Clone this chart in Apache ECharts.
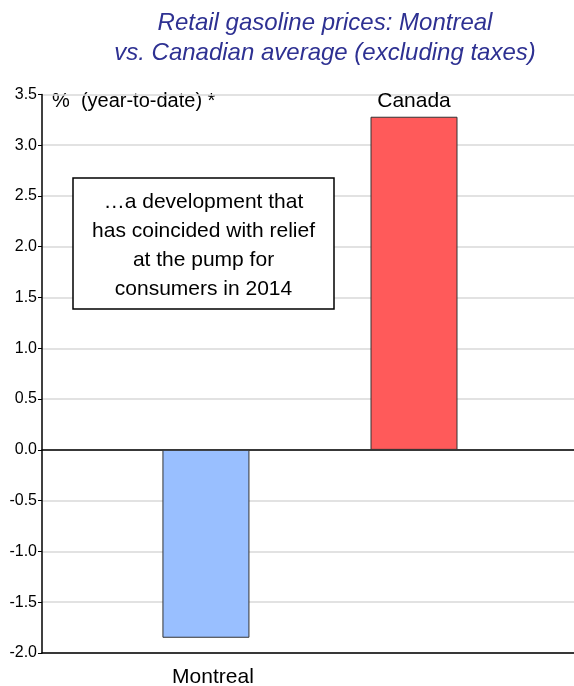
<!DOCTYPE html>
<html><head><meta charset="utf-8">
<script src="https://cdn.jsdelivr.net/npm/echarts@6/dist/echarts.min.js"></script>
<style>html,body{margin:0;padding:0;background:#fff}#c{width:574px;height:686px}</style>
</head><body><div id="c"></div>
<script>
const categories = ['Montreal', 'Canada'];
const values = [-1.85, 3.28];
const barColors = ['#99bfff', '#ff5a5a'];
const yTicks = [-2.0, -1.5, -1.0, -0.5, 0.0, 0.5, 1.0, 1.5, 2.0, 2.5, 3.0, 3.5];
const titleText = 'Retail gasoline prices: Montreal\nvs. Canadian average (excluding taxes)';
const unitText = '%  (year-to-date) *';
const noteText = '…a development that\nhas coincided with relief\nat the pump for\nconsumers in 2014';

const FONT = '"Liberation Sans Narrow", "Liberation Sans", Arial, sans-serif';
const chart = echarts.init(document.getElementById('c'), null, {renderer: 'canvas'});
chart.setOption({
  animation: false,
  backgroundColor: '#fff',
  title: {
    text: titleText, left: 320, top: 3, textAlign: 'center',
    textStyle: {fontFamily: 'Liberation Sans, Arial, sans-serif', fontStyle: 'italic', fontWeight: 'normal', fontSize: 24, lineHeight: 30, color: '#2e3192'}
  },
  grid: {left: 42, right: 0, top: 94.4, bottom: 33},
  xAxis: [{
    type: 'value', min: -0.788, max: 1.769,
    axisLine: {onZero: true, lineStyle: {color: '#000', width: 1.5}},
    axisTick: {show: false}, axisLabel: {show: false}, splitLine: {show: false}
  }, {
    type: 'value', min: -0.788, max: 1.769, position: 'bottom',
    axisLine: {onZero: false, show: true, lineStyle: {color: '#000', width: 1.5}},
    axisTick: {show: false}, axisLabel: {show: false}, splitLine: {show: false}
  }],
  yAxis: {
    type: 'value', min: yTicks[0], max: yTicks[yTicks.length - 1], interval: 0.5,
    axisLine: {show: true, onZero: false, lineStyle: {color: '#000', width: 1.5}},
    axisTick: {show: true, length: 4, lineStyle: {color: '#000'}},
    axisLabel: {color: '#000', fontFamily: FONT, fontSize: 16, margin: 5, formatter: v => v.toFixed(1)},
    splitLine: {show: true, lineStyle: {color: '#d9d9d9', width: 1.5}}
  },
  series: [{
    type: 'bar', xAxisIndex: 0, barWidth: 87,
    data: values.map((v, i) => ({
      value: [i, v],
      itemStyle: {color: barColors[i], borderColor: '#333', borderWidth: 1},
      label: {
        show: true, formatter: categories[i],
        position: v < 0 ? 'insideBottom' : 'top',
        offset: v < 0 ? [7, 55] : [0, 0],
        distance: 5,
        color: '#000', fontFamily: FONT, fontSize: 21
      }
    }))
  }],
  graphic: [
    {type: 'text', left: 52, top: 91, style: {text: unitText, fontFamily: FONT, fontSize: 20, fill: '#000'}},
    {type: 'rect', shape: {x: 73, y: 178, width: 261, height: 131}, style: {fill: '#fff', stroke: '#000', lineWidth: 1.5}, z: 10},
    {type: 'text', x: 203.5, y: 188, z: 11, style: {text: noteText, align: 'center', verticalAlign: 'top', fontFamily: FONT, fontSize: 21, lineHeight: 29, fill: '#000'}}
  ]
});
</script></body></html>
